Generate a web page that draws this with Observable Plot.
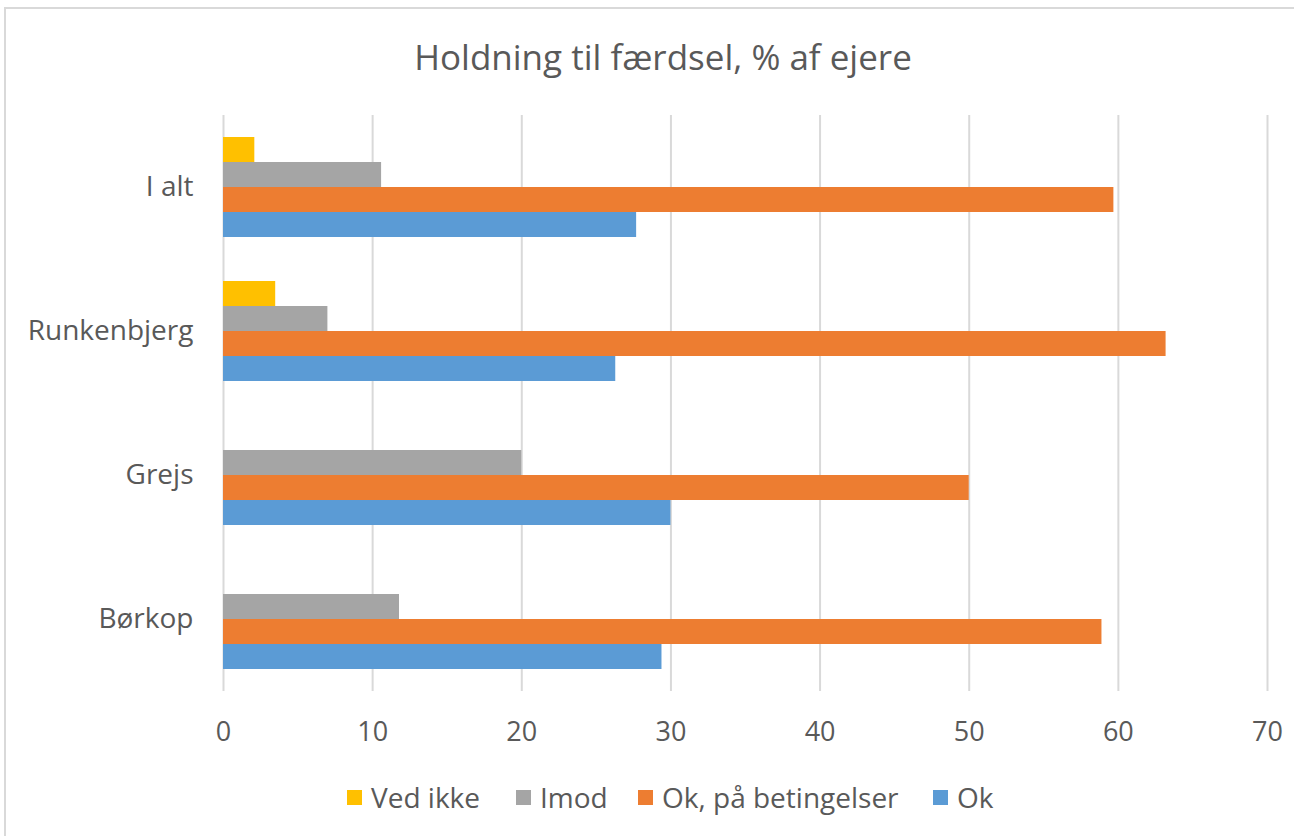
<!DOCTYPE html>
<html>
<head>
<meta charset="utf-8">
<script src="https://cdn.jsdelivr.net/npm/d3@7"></script>
<script src="https://cdn.jsdelivr.net/npm/@observablehq/plot@0.6"></script>
<style>
  html, body { margin:0; padding:0; background:#fff; }
  body { width:1294px; height:836px; position:relative; overflow:hidden; font-family: "Open Sans", Lato, sans-serif; }
  #frame { position:absolute; left:4px; top:7px; width:1300px; height:840px; border:2px solid #d9d9d9; box-sizing:border-box; }
  #title { position:absolute; top:56px; left:663px; transform:translate(-50%, -50%); font-size:35px; color:#595959; white-space:nowrap; line-height:1; }
  #chart { position:absolute; left:0; top:0; }
  #legend { position:absolute; top:0; left:0; width:1294px; height:836px; pointer-events:none; }
  #legend .sw { position:absolute; width:15px; height:15px; top:790px; }
  #legend .lbl { position:absolute; top:797px; transform:translateY(-50%); font-size:28px; color:#595959; white-space:nowrap; line-height:1; }
</style>
</head>
<body>
<div id="frame"></div>
<div id="chart"></div>
<div id="title">Holdning til færdsel, % af ejere</div>
<div id="legend"></div>
<script>
const categories = ["I alt", "Runkenbjerg", "Grejs", "Børkop"];
const series = ["Ved ikke", "Imod", "Ok, på betingelser", "Ok"];
const vedIkke = [2.1, 3.5, 0, 0];
const imod = [10.6, 7.0, 20.0, 11.8];
const okBetingelser = [59.7, 63.2, 50.0, 58.9];
const ok = [27.7, 26.3, 30.0, 29.4];
const colors = ["#FFC000", "#A5A5A5", "#ED7D31", "#5B9BD5"];
const xTicks = [0, 10, 20, 30, 40, 50, 60, 70];

const seriesValues = [vedIkke, imod, okBetingelser, ok];
const data = [];
categories.forEach((c, i) => {
  series.forEach((s, j) => {
    data.push({category: c, series: s, value: seriesValues[j][i]});
  });
});

const chart = Plot.plot({
  width: 1294,
  height: 770,
  marginLeft: 223,
  marginRight: 27,
  marginTop: 115,
  marginBottom: 79,
  style: {fontFamily: "'Open Sans', Lato, sans-serif", fontSize: "27px", color: "#595959", background: "transparent"},
  x: {domain: [0, 70], ticks: xTicks, tickSize: 0, tickPadding: 30, label: null},
  fy: {domain: categories, padding: 0, label: null, axis: "left", tickSize: 0, tickPadding: 30},
  y: {domain: series, paddingInner: 0, paddingOuter: 0.88, axis: null},
  color: {domain: series, range: colors},
  marks: [
    Plot.ruleX(xTicks, {stroke: "#d9d9d9", strokeWidth: 2}),
    Plot.barX(data, {x: "value", y: "series", fy: "category", fill: "series"})
  ]
});
chart.querySelectorAll("g[aria-label='fy-axis tick label'] text, g[aria-label='fy-axis'] text").forEach(t => t.setAttribute("font-size", "28px"));
document.getElementById("chart").appendChild(chart);

const swatchX = [347, 516, 638, 933];
const labelX = [371, 540, 662, 957];
const legend = document.getElementById("legend");
series.forEach((s, i) => {
  const sw = document.createElement("div");
  sw.className = "sw";
  sw.style.left = swatchX[i] + "px";
  sw.style.background = colors[i];
  const t = document.createElement("div");
  t.className = "lbl";
  t.style.left = labelX[i] + "px";
  t.textContent = s;
  legend.appendChild(sw);
  legend.appendChild(t);
});
</script>
</body>
</html>
